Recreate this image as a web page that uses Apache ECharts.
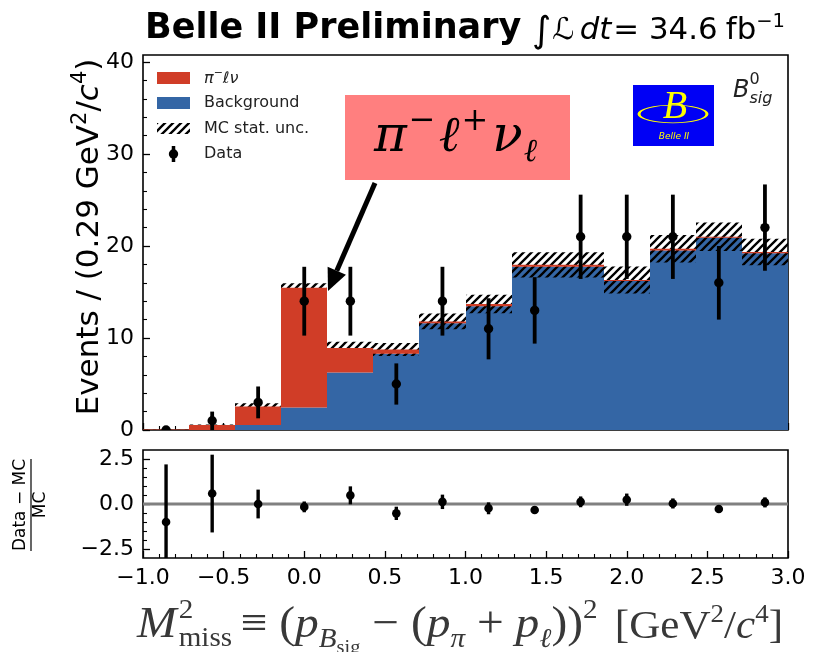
<!DOCTYPE html>
<html>
<head>
<meta charset="utf-8">
<script src="https://cdn.jsdelivr.net/npm/echarts@6/dist/echarts.min.js"></script>
<style>
  html, body { margin: 0; padding: 0; background: #fff; }
  #main { width: 823px; height: 652px; }
</style>
</head>
<body>
<div id="main"></div>
<script>
// Missing-mass-squared bins [GeV^2/c^4]
const binEdges   = [-1.0, -0.714, -0.429, -0.143, 0.143, 0.429, 0.714, 1.0, 1.286, 1.571, 1.857, 2.143, 2.429, 2.714, 3.0];
const binCenters = [-0.857, -0.571, -0.286, 0.0, 0.286, 0.571, 0.857, 1.143, 1.429, 1.714, 2.0, 2.286, 2.571, 2.857];

// Stacked MC templates (events per bin)
const background = [0.0, 0.0, 0.55, 2.45, 6.25, 8.3, 11.6, 13.45, 17.75, 17.75, 16.2, 19.5, 20.9, 19.2];
const signal     = [0.05, 0.55, 2.0, 13.0, 2.65, 0.45, 0.2, 0.25, 0.2, 0.2, 0.1, 0.2, 0.1, 0.15];
const mcStatUnc  = [0.02, 0.05, 0.35, 0.5, 0.7, 0.7, 0.85, 1.0, 1.37, 1.37, 1.47, 1.5, 1.55, 1.45];

// Data counts with Poisson errors
const dataCounts = [0, 1, 3, 14, 14, 5, 14, 11, 13, 21, 21, 21, 16, 22];
const dataErr    = [0, 1.0, 1.73, 3.74, 3.74, 2.24, 3.74, 3.32, 3.61, 4.58, 4.58, 4.58, 4.0, 4.69];

// (Data - MC) / MC pull panel
const ratio    = [-1.0, 0.58, 0.0, -0.16, 0.48, -0.52, 0.12, -0.24, -0.33, 0.12, 0.24, 0.03, -0.28, 0.09];
const ratioErr = [3.2, 2.16, 0.8, 0.3, 0.5, 0.37, 0.4, 0.33, 0.15, 0.3, 0.34, 0.28, 0.15, 0.28];

// Axis tick settings
const xTickStep = 0.5;
const yTickStep = 10;
const ratioTickStep = 2.5;

const RED = '#D03D27';
const BLUE = '#3466A5';
const SANS = '"DejaVu Sans"';
const SERIF = '"Liberation Serif"';

// diagonal '////' hatch used for the MC statistical uncertainty
function makeHatch() {
  const c = document.createElement('canvas');
  c.width = 8; c.height = 8;
  const g = c.getContext('2d');
  g.strokeStyle = '#000';
  g.lineWidth = 2.3;
  g.lineCap = 'square';
  g.beginPath();
  g.moveTo(-2, 10); g.lineTo(10, -2);
  g.moveTo(-2, 2); g.lineTo(2, -2);
  g.moveTo(6, 10); g.lineTo(10, 6);
  g.stroke();
  return c;
}
const hatchPattern = { image: makeHatch(), repeat: 'repeat' };

// simple math-like text layout: pieces placed left to right on a baseline
const measureCtx = document.createElement('canvas').getContext('2d');
function fontOf(p, family) {
  return (p.i ? 'italic ' : '') + (p.b ? 'bold ' : '') + p.s + 'px ' + family;
}
function mathText(x0, baseY, pieces, family, color) {
  const els = [];
  let x = x0;
  pieces.forEach(p => {
    const f = fontOf(p, family);
    measureCtx.font = f;
    const w = measureCtx.measureText(p.t).width;
    els.push({
      type: 'text', silent: true,
      x: x + (p.dx || 0), y: baseY + (p.dy || 0) - 0.32 * p.s,
      style: { text: p.t, font: f, fill: color, align: 'left', verticalAlign: 'middle' }
    });
    if (p.adv !== false) x += w + (p.gap || 0);
  });
  return { els, width: x - x0 };
}

const nBins = binCenters.length;
const idx = Array.from({ length: nBins }, (_, i) => i);

function rectItem(lo, hi) {
  return idx.map(i => [binEdges[i], binEdges[i + 1], lo(i), hi(i)]);
}
function histSeries(name, data, style, z) {
  return {
    type: 'custom', name, xAxisIndex: 0, yAxisIndex: 0, z, clip: true, silent: true,
    data,
    renderItem(params, api) {
      const a = api.coord([api.value(0), api.value(3)]);
      const b = api.coord([api.value(1), api.value(2)]);
      const x0 = Math.round(a[0]), x1 = Math.round(b[0]);
      return { type: 'rect', shape: { x: x0, y: a[1], width: x1 - x0, height: b[1] - a[1] }, style };
    }
  };
}
function pointSeries(xi, yi, vals, errs, r, lw, z) {
  return {
    type: 'custom', xAxisIndex: xi, yAxisIndex: yi, z, clip: true, silent: true,
    data: idx.map(i => [binCenters[i], vals[i], errs[i]]),
    renderItem(params, api) {
      const x = api.value(0), y = api.value(1), e = api.value(2);
      const c = api.coord([x, y]);
      const top = api.coord([x, y + e]);
      const bot = api.coord([x, y - e]);
      return {
        type: 'group',
        children: [
          { type: 'line', shape: { x1: c[0], y1: top[1], x2: c[0], y2: bot[1] }, style: { stroke: '#000', lineWidth: lw } },
          { type: 'circle', shape: { cx: c[0], cy: c[1], r }, style: { fill: '#000' } }
        ]
      };
    }
  };
}

const minusFmt = v => (v < 0 ? '\u2212' : '') + Math.abs(v).toFixed(1);
const tickStyle = { color: '#000', width: 1.3 };
const minorStyle = { color: '#000', width: 1.1 };

function xAxisCfg(gi, labels) {
  return {
    gridIndex: gi, type: 'value', min: -1, max: 3, interval: xTickStep, position: 'bottom',
    axisLine: { show: false, onZero: false },
    axisTick: { show: true, inside: true, length: 7, lineStyle: tickStyle },
    minorTick: { show: true, splitNumber: 5, length: 4, lineStyle: minorStyle },
    splitLine: { show: false }, minorSplitLine: { show: false },
    axisLabel: labels ? { show: true, formatter: minusFmt, fontFamily: 'DejaVu Sans', fontSize: 22, color: '#000', margin: 9 } : { show: false }
  };
}
function hiddenX(gi) {
  return { gridIndex: gi, type: 'value', min: -1, max: 3, show: false, axisLine: { onZero: false } };
}
function hiddenY(gi, mn, mx) {
  return { gridIndex: gi, type: 'value', min: mn, max: mx, show: false, axisLine: { onZero: false } };
}
function tickY(gi, mn, mx, step, fmt) {
  return {
    gridIndex: gi, type: 'value', min: mn, max: mx, interval: step, position: 'left',
    axisLine: { show: false, onZero: false },
    axisTick: { show: true, inside: true, length: 7, lineStyle: tickStyle },
    minorTick: { show: true, splitNumber: 5, length: 4, lineStyle: minorStyle },
    splitLine: { show: false },
    axisLabel: { fontFamily: 'DejaVu Sans', fontSize: 22, color: '#000', margin: 9, formatter: fmt }
  };
}

const PLOT_L = 143, PLOT_W = 645;
const MAIN_TOP = 55, MAIN_H = 375;
const RAT_TOP = 450, RAT_H = 108;

// ---------- decorations ----------
const graphics = [];

// headline
graphics.push({ type: 'text', silent: true, x: 145, y: 29,
  style: { text: 'Belle II Preliminary', font: 'bold 35px ' + SANS, fill: '#000', align: 'left', verticalAlign: 'middle' } });
(function () {
  const m = mathText(0, 0, [
    { t: '\u222B', s: 36, dy: 3, gap: 1 },
    { t: '\u2112', s: 30, i: true, gap: 5 },
    { t: 'dt', s: 30, i: true, gap: 2 },
    { t: '= 34.6', s: 30, gap: 8 },
    { t: 'fb', s: 30 },
    { t: '\u22121', s: 19, dy: -13 }
  ], SANS, '#000');
  const sx = 253 / m.width;
  graphics.push({ type: 'group', x: 532, y: 41, scaleX: sx, children: m.els });
})();

// legend
graphics.push({ type: 'rect', silent: true, shape: { x: 157, y: 72, width: 33, height: 12 }, style: { fill: RED } });
graphics.push({ type: 'rect', silent: true, shape: { x: 157, y: 97, width: 33, height: 12 }, style: { fill: BLUE } });
graphics.push({ type: 'rect', silent: true, shape: { x: 157, y: 123, width: 33, height: 11 }, style: { fill: hatchPattern } });
graphics.push({ type: 'line', silent: true, shape: { x1: 173.5, y1: 146, x2: 173.5, y2: 162 }, style: { stroke: '#000', lineWidth: 3.5 } });
graphics.push({ type: 'circle', silent: true, shape: { cx: 173.5, cy: 154, r: 4.7 }, style: { fill: '#000' } });
graphics.push(...mathText(204, 84, [
  { t: '\u03C0', s: 16, i: true },
  { t: '\u2212', s: 11, dy: -7 },
  { t: '\u2113\u03BD', s: 16, i: true }
], SANS, '#222').els);
[['Background', 103], ['MC stat. unc.', 129], ['Data', 154]].forEach(([t, y]) => {
  graphics.push({ type: 'text', silent: true, x: 204, y,
    style: { text: t, font: '16px ' + SANS, fill: '#222', align: 'left', verticalAlign: 'middle' } });
});

// signal-channel callout
graphics.push({ type: 'rect', silent: true, shape: { x: 345, y: 95, width: 225, height: 85 }, style: { fill: '#FF7F7F' } });
graphics.push(...mathText(374, 154, [
  { t: '\u03C0', s: 50, i: true, gap: 2 },
  { t: '\u2212', s: 32, dy: -22, gap: 3 },
  { t: '\u2113', s: 50, i: true, gap: 2 },
  { t: '+', s: 32, dy: -22, gap: 4 },
  { t: '\u03BD', s: 50, i: true, gap: 1 },
  { t: '\u2113', s: 32, i: true, dy: 9 }
], '"DejaVu Serif"', '#000').els);
// arrow to the signal peak
(function () {
  const tail = [375, 183], tip = [328, 291];
  const dx = tip[0] - tail[0], dy = tip[1] - tail[1];
  const L = Math.hypot(dx, dy), ux = dx / L, uy = dy / L;
  const hl = 22, hw = 10;
  const bx = tip[0] - hl * ux, by = tip[1] - hl * uy;
  graphics.push({ type: 'line', silent: true, shape: { x1: tail[0], y1: tail[1], x2: bx, y2: by }, style: { stroke: '#000', lineWidth: 5 } });
  graphics.push({ type: 'polygon', silent: true, shape: { points: [tip, [bx - hw * uy, by + hw * ux], [bx + hw * uy, by - hw * ux]] }, style: { fill: '#000' } });
})();

// experiment logo
graphics.push({ type: 'rect', silent: true, shape: { x: 633, y: 85, width: 81, height: 61 }, style: { fill: '#0000F5' } });
graphics.push({ type: 'arc', silent: true, x: 673, y: 114, scaleY: 0.26,
  shape: { cx: 0, cy: 0, r: 34, startAngle: 0, endAngle: Math.PI * 2 },
  style: { stroke: '#FFFF00', lineWidth: 3, fill: null, strokeNoScale: true } });
graphics.push({ type: 'text', silent: true, x: 675, y: 107,
  style: { text: 'B', font: 'italic 40px ' + SERIF, fill: '#FFFF00', align: 'center', verticalAlign: 'middle' } });
graphics.push({ type: 'text', silent: true, x: 674, y: 137,
  style: { text: 'Belle II', font: 'italic 9px ' + SANS, fill: '#FFFF00', align: 'center', verticalAlign: 'middle' } });

// sample tag
graphics.push(...mathText(733, 98, [
  { t: 'B', s: 24, i: true },
  { t: '0', s: 16, dy: -13, adv: false },
  { t: 'sig', s: 16, i: true, dy: 6 }
], SANS, '#222').els);

// y-axis title of the main panel (rotated)
(function () {
  const m = mathText(0, 0, [
    { t: 'Events / (0.29 GeV', s: 31 },
    { t: '2', s: 21, dy: -13 },
    { t: '/', s: 31 },
    { t: 'c', s: 31, i: true },
    { t: '4', s: 21, dy: -13 },
    { t: ')', s: 31 }
  ], SANS, '#000');
  m.els.forEach(e => { e.x -= m.width / 2; });
  graphics.push({ type: 'group', x: 100, y: 237, rotation: Math.PI / 2, children: m.els });
})();

// y-axis title of the ratio panel: (Data - MC) / MC
(function () {
  const f = '17px ' + SANS;
  measureCtx.font = f;
  const w = measureCtx.measureText('Data \u2212 MC').width;
  graphics.push({ type: 'group', x: 31, y: 505, rotation: Math.PI / 2, children: [
    { type: 'text', x: 0, y: -10, style: { text: 'Data \u2212 MC', font: f, fill: '#000', align: 'center', verticalAlign: 'middle' } },
    { type: 'line', shape: { x1: -w / 2, y1: 0, x2: w / 2, y2: 0 }, style: { stroke: '#000', lineWidth: 1.2 } },
    { type: 'text', x: 0, y: 10, style: { text: 'MC', font: f, fill: '#000', align: 'center', verticalAlign: 'middle' } }
  ] });
})();

// x-axis title, stretched to the width of the plot row
(function () {
  const S = 44, s = 27, ss = 19, U = 40, u = 25;
  const m = mathText(0, 0, [
    { t: 'M', s: S, i: true, gap: 2 },
    { t: '2', s: s, dy: -20, adv: false },
    { t: 'miss', s: s, dy: 8, gap: 8 },
    { t: '\u2261 (', s: S },
    { t: 'p', s: S, i: true },
    { t: 'B', s: s, i: true, dy: 9 },
    { t: 'sig', s: ss, dy: 14 },
    { t: ' \u2212 (', s: S },
    { t: 'p', s: S, i: true },
    { t: '\u03C0', s: s, i: true, dy: 9 },
    { t: ' + ', s: S },
    { t: 'p', s: S, i: true },
    { t: '\u2113', s: s, i: true, dy: 9 },
    { t: '))', s: S },
    { t: '2', s: s, dy: -20, gap: 16 },
    { t: '[GeV', s: U },
    { t: '2', s: u, dy: -17 },
    { t: '/', s: U },
    { t: 'c', s: U, i: true },
    { t: '4', s: u, dy: -17 },
    { t: ']', s: U }
  ], SERIF, '#383838');
  graphics.push({ type: 'group', x: 137, y: 640, scaleX: 646 / m.width, children: m.els });
})();

const option = {
  animation: false,
  backgroundColor: '#fff',
  grid: [
    { left: PLOT_L, top: MAIN_TOP, width: PLOT_W, height: MAIN_H, show: true, borderColor: '#000', borderWidth: 1.6, backgroundColor: 'transparent' },
    { left: PLOT_L, top: RAT_TOP, width: PLOT_W, height: RAT_H, show: true, borderColor: '#000', borderWidth: 1.6, backgroundColor: 'transparent' },
    // tick scaffolding for the main y axis (0..40)
    { left: PLOT_L, top: MAIN_TOP + MAIN_H * (0.76 / 40.76), width: PLOT_W, height: MAIN_H * (40 / 40.76), show: false },
    // tick scaffolding for the ratio y axis (-2.5..2.5)
    { left: PLOT_L, top: RAT_TOP + RAT_H * (0.5 / 6), width: PLOT_W, height: RAT_H * (5 / 6), show: false }
  ],
  xAxis: [xAxisCfg(0, false), xAxisCfg(1, true), hiddenX(2), hiddenX(3)],
  yAxis: [
    hiddenY(0, 0, 40.76),
    hiddenY(1, -3, 3),
    tickY(2, 0, 40, yTickStep, v => String(v)),
    tickY(3, -2.5, 2.5, ratioTickStep, minusFmt)
  ],
  series: [
    histSeries('Background', rectItem(() => 0, i => background[i]), { fill: BLUE }, 2),
    histSeries('MC stat. unc.', rectItem(i => Math.max(0, background[i] + signal[i] - mcStatUnc[i]), i => background[i] + signal[i] + mcStatUnc[i]), { fill: hatchPattern }, 3),
    histSeries('Signal', rectItem(i => background[i], i => background[i] + signal[i]), { fill: RED }, 4),
    pointSeries(0, 0, dataCounts, dataErr, 4.7, 3.8, 6),
    {
      type: 'line', xAxisIndex: 1, yAxisIndex: 1, z: 2, silent: true, symbol: 'none',
      data: [[-1, 0], [3, 0]], lineStyle: { color: '#808080', width: 3 }
    },
    pointSeries(1, 1, ratio, ratioErr, 4.3, 3.4, 6)
  ],
  graphic: { elements: graphics }
};

const chart = echarts.init(document.getElementById('main'), null, { renderer: 'canvas' });
chart.setOption(option);
</script>
</body>
</html>
